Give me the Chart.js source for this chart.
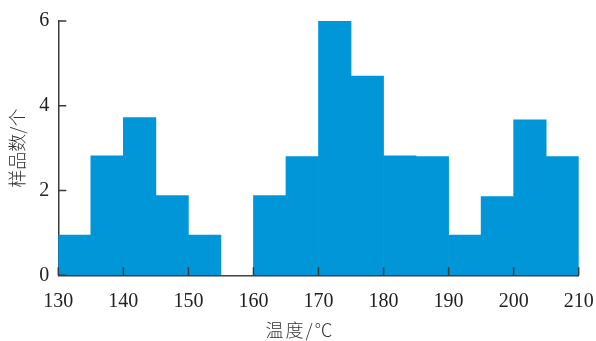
<!DOCTYPE html>
<html>
<head>
<meta charset="utf-8">
<script src="https://cdn.jsdelivr.net/npm/chart.js@4/dist/chart.umd.min.js"></script>
<style>
  html, body { margin: 0; padding: 0; background: #ffffff; }
  #wrap { width: 596px; height: 341px; position: relative; }
</style>
</head>
<body>
<div id="wrap"><canvas id="chart"></canvas></div>
<script>
// Histogram of sample counts per 5 °C temperature bin
const binStarts = [130, 135, 140, 145, 150, 155, 160, 165, 170, 175, 180, 185, 190, 195, 200, 205];
const sampleCounts = [0.95, 2.82, 3.72, 1.88, 0.95, 0, 1.88, 2.8, 6, 4.7, 2.82, 2.8, 0.95, 1.86, 3.67, 2.8];
const binWidth = 5;
const xTickValues = [130, 140, 150, 160, 170, 180, 190, 200, 210];
const yTickValues = [0, 2, 4, 6];

const xTitle = '温度/℃';
const yTitle = '样品数/个';

const barColor = '#0096d8';
const axisColor = '#3a3a3a';
const tickFont = { family: '"Liberation Serif", "Times New Roman", serif', size: 20 };
const titleFont = { family: '"Noto Sans CJK SC", sans-serif', size: 18, weight: '300' };

const points = binStarts.map((s, i) => ({ x: s + binWidth / 2, y: sampleCounts[i] }));

// short tick marks pointing into the plot area, plus the x-axis caption centred on the canvas
const axisExtras = {
  id: 'axisExtras',
  afterDatasetsDraw(chart) {
    const { ctx, chartArea, scales } = chart;
    const len = 8;
    ctx.save();
    ctx.strokeStyle = axisColor;
    ctx.lineWidth = 1.5;
    ctx.beginPath();
    xTickValues.forEach(v => {
      const px = scales.x.getPixelForValue(v);
      ctx.moveTo(px, chartArea.bottom);
      ctx.lineTo(px, chartArea.bottom - len);
    });
    yTickValues.forEach(v => {
      const py = scales.y.getPixelForValue(v);
      ctx.moveTo(chartArea.left, py);
      ctx.lineTo(chartArea.left + len, py);
    });
    ctx.stroke();
    ctx.restore();
  },
  afterDraw(chart) {
    const { ctx, width } = chart;
    ctx.save();
    ctx.fillStyle = '#333';
    ctx.font = `${titleFont.weight} ${titleFont.size}px ${titleFont.family}`;
    ctx.letterSpacing = '2px';
    ctx.textAlign = 'center';
    ctx.textBaseline = 'middle';
    ctx.fillText(xTitle, width / 2 + 2, 330);
    ctx.restore();
  }
};

new Chart(document.getElementById('chart'), {
  type: 'bar',
  data: {
    datasets: [{
      data: points,
      backgroundColor: barColor,
      borderWidth: 0,
      barPercentage: 1,
      categoryPercentage: 1
    }]
  },
  options: {
    responsive: true,
    maintainAspectRatio: false,
    animation: false,
    layout: { padding: { left: 0, right: 0, top: 20, bottom: 0 } },
    plugins: {
      legend: { display: false },
      tooltip: { enabled: false }
    },
    scales: {
      x: {
        type: 'linear',
        min: 130,
        max: 210,
        offset: false,
        afterBuildTicks: (s) => { s.ticks = xTickValues.map(v => ({ value: v })); },
        afterFit: (s) => { s.height = 341 - 275.3; s.paddingLeft = 0; s.paddingRight = 17.3; },
        grid: { display: true, drawOnChartArea: false, drawTicks: false },
        border: { display: true, color: axisColor, width: 1.5 },
        ticks: { color: '#222', font: tickFont, padding: 14, maxRotation: 0, autoSkip: false },
        title: { display: false }
      },
      y: {
        min: 0,
        max: 6,
        afterBuildTicks: (s) => { s.ticks = yTickValues.map(v => ({ value: v })); },
        afterFit: (s) => { s.width = 58.3; },
        grid: { display: true, drawOnChartArea: false, drawTicks: false },
        border: { display: true, color: axisColor, width: 1.5 },
        ticks: { color: '#222', font: tickFont, padding: 9 },
        title: { display: true, text: yTitle, color: '#333', font: titleFont, padding: { top: 6, bottom: 0 } }
      }
    }
  },
  plugins: [axisExtras]
});
</script>
</body>
</html>
